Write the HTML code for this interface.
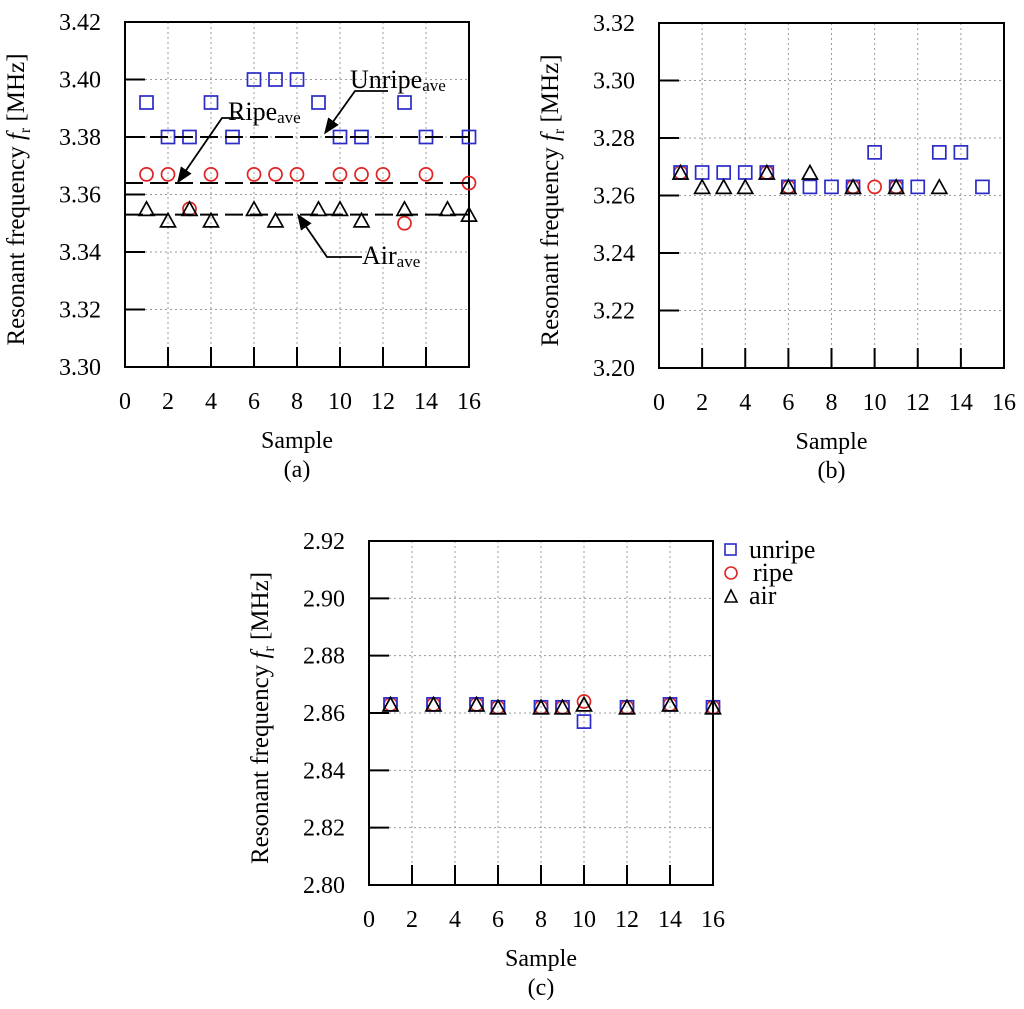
<!DOCTYPE html>
<html><head><meta charset="utf-8"><style>
body{margin:0;background:#fff}
svg{display:block;font-family:"Liberation Serif",serif}
</style></head><body>
<svg id="fig" width="1024" height="1009" viewBox="0 0 1024 1009" xmlns="http://www.w3.org/2000/svg">
<defs><marker id="ah" viewBox="0 0 10 10" refX="9" refY="5" markerWidth="9" markerHeight="9" orient="auto"><path d="M0,1 L10,5 L0,9 z" fill="#000"/></marker></defs>
</svg>
<script>
const xTicks=[0,2,4,6,8,10,12,14,16];
const aYTicks=[3.30,3.32,3.34,3.36,3.38,3.40,3.42];
const aUnripeX=[1,2,3,4,5,6,7,8,9,10,11,13,14,16];
const aUnripeY=[3.392,3.380,3.380,3.392,3.380,3.400,3.400,3.400,3.392,3.380,3.380,3.392,3.380,3.380];
const aRipeX=[1,2,3,4,6,7,8,10,11,12,13,14,16];
const aRipeY=[3.367,3.367,3.355,3.367,3.367,3.367,3.367,3.367,3.367,3.367,3.350,3.367,3.364];
const aAirX=[1,2,3,4,6,7,9,10,11,13,15,16];
const aAirY=[3.355,3.351,3.355,3.351,3.355,3.351,3.355,3.355,3.351,3.355,3.355,3.353];
const aAverages=[3.380,3.364,3.353];
const bYTicks=[3.20,3.22,3.24,3.26,3.28,3.30,3.32];
const bUnripeX=[1,2,3,4,5,6,7,8,9,10,11,12,13,14,15];
const bUnripeY=[3.268,3.268,3.268,3.268,3.268,3.263,3.263,3.263,3.263,3.275,3.263,3.263,3.275,3.275,3.263];
const bRipeX=[1,5,6,9,10,11];
const bRipeY=[3.268,3.268,3.263,3.263,3.263,3.263];
const bAirX=[1,2,3,4,5,6,7,9,11,13];
const bAirY=[3.268,3.263,3.263,3.263,3.268,3.263,3.268,3.263,3.263,3.263];
const cYTicks=[2.80,2.82,2.84,2.86,2.88,2.90,2.92];
const cUnripeX=[1,3,5,6,8,9,10,12,14,16];
const cUnripeY=[2.863,2.863,2.863,2.862,2.862,2.862,2.857,2.862,2.863,2.862];
const cRipeX=[1,3,5,6,8,9,10,12,14,16];
const cRipeY=[2.863,2.863,2.863,2.862,2.862,2.862,2.864,2.862,2.863,2.862];
const cAirX=[1,3,5,6,8,9,10,12,14,16];
const cAirY=[2.863,2.863,2.863,2.862,2.862,2.862,2.863,2.862,2.863,2.862];

const NS="http://www.w3.org/2000/svg";
const svg=document.getElementById('fig');
function mk(tag,attrs,parent,text){const e=document.createElementNS(NS,tag);for(const k in attrs)e.setAttribute(k,attrs[k]);if(text!==undefined)e.textContent=text;(parent||svg).appendChild(e);return e;}
const BLUE="#2b2bc8",RED="#e02424";

function panel(id,L,R,T,B,yTicks,series,title,label){
  const g=mk('g',{});
  
  
  const y0=yTicks[0],y1=yTicks[yTicks.length-1];
  const sx=v=>L+(v-xTicks[0])/(xTicks[xTicks.length-1]-xTicks[0])*(R-L);
  const sy=v=>B-(v-y0)/(y1-y0)*(B-T);
  yTicks.forEach((t,i)=>{const y=sy(t);
    if(i>0&&i<yTicks.length-1){const gl=mk('line',{x1:L,x2:R,y1:y,y2:y,stroke:'#999','stroke-width':1,'stroke-dasharray':'2,3'},g);
      const tk=mk('line',{x1:L,x2:L+20,y1:y,y2:y,stroke:'#000','stroke-width':2},g);}
    const tl=mk('text',{x:L-24,y:y+8,'text-anchor':'end','font-size':24},g,t.toFixed(2));});
  xTicks.forEach((t,i)=>{const x=sx(t);
    if(i>0&&i<xTicks.length-1){const gl=mk('line',{x1:x,x2:x,y1:T,y2:B,stroke:'#999','stroke-width':1,'stroke-dasharray':'2,3'},g);
      const tk=mk('line',{x1:x,x2:x,y1:B,y2:B-20,stroke:'#000','stroke-width':2},g);}
    const tl=mk('text',{x:x,y:B+42,'text-anchor':'middle','font-size':24},g,String(t));});
  const fr=mk('rect',{x:L,y:T,width:R-L,height:B-T,fill:'none',stroke:'#000','stroke-width':2},g);
  
  const xt=mk('text',{x:(L+R)/2,y:B+81,'text-anchor':'middle','font-size':24},g,'Sample');
  
  const cp=mk('text',{x:(L+R)/2,y:B+110,'text-anchor':'middle','font-size':24},g,label);
  
  const yt=mk('text',{x:0,y:0,'text-anchor':'middle','font-size':25,transform:`translate(${L-101},${(T+B)/2+5}) rotate(-90)`},g);
  
  yt.appendChild(document.createTextNode('Resonant frequency '));
  mk('tspan',{'font-style':'italic'},yt,'f');
  mk('tspan',{'font-size':16,dy:6},yt,'r');
  mk('tspan',{dy:-6},yt,' [MHz]');
  series.forEach(s=>{
    s.xs.forEach((xv,i)=>{const x=sx(xv),y=sy(s.ys[i]);let m;
      if(s.type==='sq')m=mk('rect',{x:x-6.5,y:y-6.5,width:13,height:13,fill:'none',stroke:BLUE,'stroke-width':1.7},g);
      else if(s.type==='ci')m=mk('circle',{cx:x,cy:y,r:6.5,fill:'none',stroke:RED,'stroke-width':1.7},g);
      else m=mk('path',{d:`M${x-7.5},${y+6.5} L${x},${y-7} L${x+7.5},${y+6.5} Z`,fill:'none',stroke:'#000','stroke-width':1.7},g);
      });
  });
  return {sx,sy,g};
}

const pa=panel('a',125,469,22,367,aYTicks,[
  {type:'sq',name:'unripe',xs:aUnripeX,ys:aUnripeY},
  {type:'ci',name:'ripe',xs:aRipeX,ys:aRipeY},
  {type:'tr',name:'air',xs:aAirX,ys:aAirY}],'','(a)');
const avgNames=['unripe-average-line','ripe-average-line','air-average-line'];
aAverages.forEach((v,i)=>{const l=mk('line',{x1:pa.sx(0),x2:pa.sx(16),y1:pa.sy(v),y2:pa.sy(v),stroke:'#000','stroke-width':2,'stroke-dasharray':'18,7'},pa.g);
  });
function annot(name,txt,tx,ty,pts){
  const t=mk('text',{x:tx,y:ty,'font-size':26},svg);
  
  t.appendChild(document.createTextNode(txt));mk('tspan',{'font-size':17,dy:3},t,'ave');
  const p=mk('polyline',{points:pts,fill:'none',stroke:'#000','stroke-width':1.8,'marker-end':'url(#ah)'},svg);
  
}
annot('unripe-average-label','Unripe',350,88,'388,91 355,91 325,133');
annot('ripe-average-label','Ripe',228,120,'240,118 222,118 178,182');
annot('air-average-label','Air',362,264,'362,257 327,257 298,215');

panel('b',659,1004,23,368,bYTicks,[
  {type:'ci',name:'ripe',xs:bRipeX,ys:bRipeY},
  {type:'sq',name:'unripe',xs:bUnripeX,ys:bUnripeY},
  {type:'tr',name:'air',xs:bAirX,ys:bAirY}],'','(b)');

panel('c',369,713,541,885,cYTicks,[
  {type:'ci',name:'ripe',xs:cRipeX,ys:cRipeY},
  {type:'sq',name:'unripe',xs:cUnripeX,ys:cUnripeY},
  {type:'tr',name:'air',xs:cAirX,ys:cAirY}],'','(c)');

const lg=mk('g',{});


const e1=mk('rect',{x:725,y:544,width:11,height:11,fill:'none',stroke:BLUE,'stroke-width':1.6},lg);

const e2=mk('circle',{cx:731,cy:573,r:6,fill:'none',stroke:RED,'stroke-width':1.6},lg);

const e3=mk('path',{d:'M725,602 L731,590 L737,602 Z',fill:'none',stroke:'#000','stroke-width':1.6},lg);

const t1=mk('text',{x:749,y:558,'font-size':26},lg,'unripe');

const t2=mk('text',{x:753,y:581,'font-size':26},lg,'ripe');

const t3=mk('text',{x:749,y:604,'font-size':26},lg,'air');

</script>
</body></html>
